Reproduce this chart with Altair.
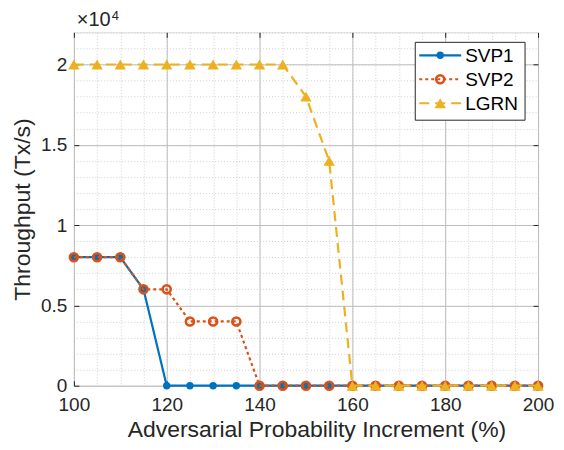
import altair as alt
import pandas as pd

x_vals = [100, 105, 110, 115, 120, 125, 130, 135, 140, 145, 150, 155, 160,
          165, 170, 175, 180, 185, 190, 195, 200]
svp1 = [8000, 8000, 8000, 6000, 0, 0, 0, 0, 0, 0, 0, 0, 0,
        0, 0, 0, 0, 0, 0, 0, 0]
svp2 = [8000, 8000, 8000, 6000, 6000, 4000, 4000, 4000, 0, 0, 0, 0, 0,
        0, 0, 0, 0, 0, 0, 0, 0]
lgrn = [20000, 20000, 20000, 20000, 20000, 20000, 20000, 20000, 20000, 20000,
        18000, 14000, 0, 0, 0, 0, 0, 0, 0, 0, 0]
series = ["SVP1", "SVP2", "LGRN"]
colors = ["#0072BD", "#D95319", "#EDB120"]
x_major = [100, 120, 140, 160, 180, 200]
y_major = [0, 5000, 10000, 15000, 20000]
x_minor = list(range(100, 201, 5))
y_minor = list(range(0, 22001, 1000))

W, H = 465, 354
FONT = "Liberation Sans"
TXT = "#262626"

df = pd.DataFrame({"x": x_vals, "SVP1": svp1, "SVP2": svp2, "LGRN": lgrn})

xs = alt.Scale(domain=[100, 200], nice=False, zero=False)
ys = alt.Scale(domain=[0, 22000], nice=False, zero=False)

# minor grid layer
minor = alt.Chart(df).mark_point(opacity=0).encode(
    x=alt.X("x:Q", scale=xs, axis=alt.Axis(values=x_minor, grid=True, gridDash=[1, 2],
                                             gridColor="#c4c4c4", gridWidth=0.8,
                                             labels=False, ticks=False, domain=False,
                                             title=None, orient="bottom")),
    y=alt.Y("SVP1:Q", scale=ys, axis=alt.Axis(values=y_minor, grid=True, gridDash=[1, 2],
                                                gridColor="#c4c4c4", gridWidth=0.8,
                                                labels=False, ticks=False, domain=False,
                                                title=None, orient="left")),
)

# major grid + labeled axes layer
major = alt.Chart(df).mark_point(opacity=0).encode(
    x=alt.X("x:Q", scale=xs, axis=alt.Axis(values=x_major, grid=True, gridColor="#bdbdbd",
                                             gridWidth=1, ticks=False, domain=False,
                                             labelFlush=False,
                                             labelFont=FONT, labelFontSize=19, labelColor=TXT,
                                             labelPadding=10,
                                             title="Adversarial Probability Increment (%)",
                                             titleFont=FONT, titleFontSize=23, titleColor=TXT,
                                             titleFontWeight="normal", titlePadding=4,
                                             titleX=243,
                                             orient="bottom")),
    y=alt.Y("SVP1:Q", scale=ys, axis=alt.Axis(values=y_major, grid=True, gridColor="#bdbdbd",
                                                gridWidth=1, ticks=False, domain=False,
                                                labelFlush=False,
                                                labelExpr="datum.value / 10000",
                                                labelFont=FONT, labelFontSize=19, labelColor=TXT,
                                                labelPadding=7,
                                                title="Throughput (Tx/s)",
                                                titleFont=FONT, titleFontSize=23, titleColor=TXT,
                                                titleFontWeight="normal", titlePadding=6,
                                                orient="left")),
)

# inward ticks on top and right
ticks_tr = alt.Chart(df).mark_point(opacity=0).encode(
    x=alt.X("x:Q", scale=xs, axis=alt.Axis(values=x_major, grid=False, labels=False,
                                             domain=False, ticks=True, tickSize=5,
                                             tickColor=TXT, offset=-5, title=None,
                                             orient="top")),
    y=alt.Y("SVP1:Q", scale=ys, axis=alt.Axis(values=y_major, grid=False, labels=False,
                                                domain=False, ticks=True, tickSize=5,
                                                tickColor=TXT, offset=-5, title=None,
                                                orient="right")),
)
# inward ticks on bottom and left
ticks_bl = alt.Chart(df).mark_point(opacity=0).encode(
    x=alt.X("x:Q", scale=xs, axis=alt.Axis(values=x_major, grid=False, labels=False,
                                             domain=False, ticks=True, tickSize=5,
                                             tickColor=TXT, offset=-5, title=None,
                                             orient="bottom")),
    y=alt.Y("SVP1:Q", scale=ys, axis=alt.Axis(values=y_major, grid=False, labels=False,
                                                domain=False, ticks=True, tickSize=5,
                                                tickColor=TXT, offset=-5, title=None,
                                                orient="left")),
)


def series_layers(col, color, dash, shape, filled, size, sw):
    base = alt.Chart(df).encode(
        x=alt.X("x:Q", scale=xs, axis=None),
        y=alt.Y(f"{col}:Q", scale=ys, axis=None),
    )
    line = base.mark_line(color=color, strokeWidth=2.2, strokeDash=dash)
    if filled:
        pts = base.mark_point(shape=shape, filled=True, color=color, size=size, opacity=1)
    else:
        pts = base.mark_point(shape=shape, filled=False, color=color, size=size,
                              strokeWidth=sw, opacity=1)
    return [line, pts]


layers = [minor, major, ticks_tr, ticks_bl]
layers += series_layers("SVP1", colors[0], [1, 0], "circle", True, 55, 0)
layers += series_layers("SVP2", colors[1], [3, 3], "circle", False, 65, 2.6)
layers += series_layers("LGRN", colors[2], [10, 6], "triangle-up", True, 130, 0)

# legend
one = pd.DataFrame({"a": [0]})
leg_box = alt.Chart(one).mark_rect(fill="white", stroke=TXT, strokeWidth=1).encode(
    x=alt.value(342), x2=alt.value(452), y=alt.value(10), y2=alt.value(88))
layers.append(leg_box)
rows_y = [23, 47, 71]
dashes = [[1, 0], [3, 3], [10, 6]]
for i, s in enumerate(series):
    layers.append(alt.Chart(one).mark_rule(color=colors[i], strokeWidth=2.2, strokeDash=dashes[i]).encode(
        x=alt.value(346), x2=alt.value(388), y=alt.value(rows_y[i])))
    if i == 0:
        mk = alt.Chart(one).mark_point(shape="circle", filled=True, color=colors[i], size=55, opacity=1)
    elif i == 1:
        mk = alt.Chart(one).mark_point(shape="circle", filled=False, color=colors[i], size=65,
                                       strokeWidth=2.6, opacity=1)
    else:
        mk = alt.Chart(one).mark_point(shape="triangle-up", filled=True, color=colors[i], size=130, opacity=1)
    layers.append(mk.encode(x=alt.value(367), y=alt.value(rows_y[i])))
    layers.append(alt.Chart(one).mark_text(align="left", baseline="middle", font=FONT,
                                           fontSize=19, color="black", text=s).encode(
        x=alt.value(392), y=alt.value(rows_y[i] + 1)))

# x10^4 multiplier
layers.append(alt.Chart(one).mark_text(align="left", baseline="alphabetic", font=FONT,
                                       fontSize=20, color=TXT, text="×10").encode(
    x=alt.value(3), y=alt.value(-6)))
layers.append(alt.Chart(one).mark_text(align="left", baseline="alphabetic", font=FONT,
                                       fontSize=13, color=TXT, text="4").encode(
    x=alt.value(38), y=alt.value(-12)))

chart = alt.layer(*layers).resolve_axis(x="independent", y="independent").properties(
    width=W, height=H,
    autosize=alt.AutoSizeParams(type="none"),
    padding={"left": 66, "top": 24, "right": 18, "bottom": 62},
).configure_view(stroke=TXT, strokeWidth=1).configure(background="white")

chart.save("out.html", embed_options={"renderer": "svg", "actions": False})
